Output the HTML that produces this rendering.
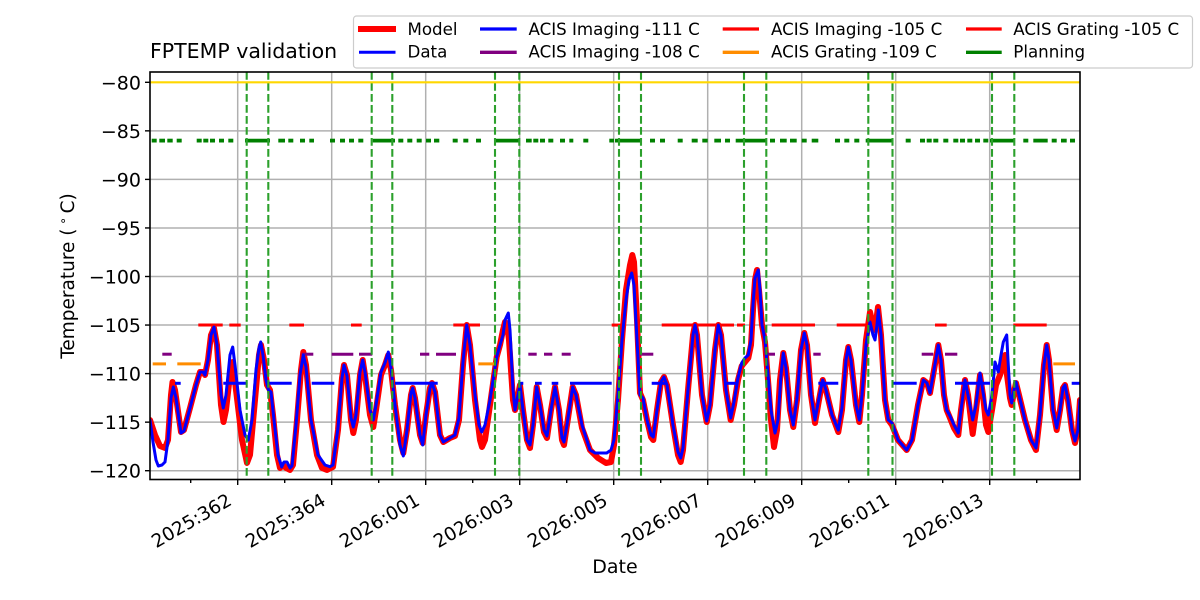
<!DOCTYPE html>
<html><head><meta charset="utf-8"><style>
html,body{margin:0;padding:0;background:#fff;}
svg{display:block;}
text{font-family:"DejaVu Sans","Liberation Sans",sans-serif;fill:#000;}
</style></head><body>
<svg width="1200" height="600" viewBox="0 0 1200 600" xmlns="http://www.w3.org/2000/svg">
<defs><clipPath id="ax"><rect x="150" y="72" width="930" height="407.5"/></clipPath></defs>
<rect width="1200" height="600" fill="#fff"/>
<!-- grid -->
<g stroke="#b0b0b0" stroke-width="1.5">
<line x1="237.7" y1="72" x2="237.7" y2="479.5"/><line x1="331.7" y1="72" x2="331.7" y2="479.5"/><line x1="425.7" y1="72" x2="425.7" y2="479.5"/><line x1="519.7" y1="72" x2="519.7" y2="479.5"/><line x1="613.7" y1="72" x2="613.7" y2="479.5"/><line x1="707.7" y1="72" x2="707.7" y2="479.5"/><line x1="801.7" y1="72" x2="801.7" y2="479.5"/><line x1="895.7" y1="72" x2="895.7" y2="479.5"/><line x1="989.7" y1="72" x2="989.7" y2="479.5"/>
<line x1="150" y1="82.3" x2="1080" y2="82.3"/><line x1="150" y1="130.85" x2="1080" y2="130.85"/><line x1="150" y1="179.4" x2="1080" y2="179.4"/><line x1="150" y1="227.95" x2="1080" y2="227.95"/><line x1="150" y1="276.5" x2="1080" y2="276.5"/><line x1="150" y1="325.05" x2="1080" y2="325.05"/><line x1="150" y1="373.6" x2="1080" y2="373.6"/><line x1="150" y1="422.15" x2="1080" y2="422.15"/><line x1="150" y1="470.7" x2="1080" y2="470.7"/>
</g>
<g clip-path="url(#ax)" fill="none" stroke-linejoin="round" stroke-linecap="round">
<!-- model -->
<polyline stroke="#ff0000" stroke-width="6" points="150,420 155,435 160,446 165,448 168,440 171,395 172.5,382 175,390 181,432 184,430 190,408 196,385 200,372 203,372 205,375 208,360 211,335 214,328 217,345 221,405 223.5,422 226,410 230,375 232.7,362 236,390 242,440 247,463 250,455 255,400 259,355 261,345 264,360 267,385 270,390 273,415 277,455 280,468 283,465 286,468 290,470 293,465 297,420 301,370 303.3,352 306,365 311,420 317,455 322,468 327,470 333,467 338,430 342,378 344,365 347,375 351,420 353.3,433 356,420 360,375 362.7,360 365,375 370,415 373.3,427 376,410 381,375 385,365 388.3,355 391,370 395,405 400,440 403.3,453 407,430 411,395 412.7,388 415,398 420,435 422.7,443 426,415 430,388 432,383 435,392 440,435 443.3,442 450,438 455,436 459,420 463,365 466.7,325 470,345 475,400 480,440 482,447 485,440 490,405 496.7,357 500,345 503,330 505,322 507,325 509,340 513,400 515,410 517,400 520,385 523,410 527,440 530,448 533,425 536.7,387 540,405 544,432 547,438 551,410 555,387 559,410 562,440 564,445 567,425 572.7,387 576,395 582,428 590,450 598,458 606,463 611,462 614,445 618,400 622,340 626,290 630,265 632.3,255 634,262 637,320 640,393 643,400 647,420 651,437 653.3,440 657,410 661,382 664,377 667,385 673,425 678,455 680.7,462 683,450 688,390 693,335 695,325 697,335 702,395 706.7,422 710,405 715,350 718.3,325 721,335 726,390 730.7,420 734,405 738,380 741.7,366 745,362 748.3,358 751,345 753,310 755,280 757,270 759,290 762,325 765,342 768,380 771,420 774,447 777,430 780,380 783.3,353 786,368 790,410 793.3,427 797,400 801,350 804.3,333 807,345 811,395 815,423 819,400 822.7,380 826,390 832,415 838.3,432 842,410 846,360 848.3,347 851,360 856,405 859.3,422 862,395 866,340 870,312 873,325 875,330 878,307 881,335 885,400 888.3,420 892,425 898,440 906.7,450 912,440 918,405 923.3,380 927,383 930,393 934,370 938.3,345 941,360 944,395 946.7,410 950,418 954,428 958.3,435 961,410 965,380 968,395 972.7,434 976,410 980,375 983,395 986,425 988.3,432 992,410 996,385 1000,375 1003,365 1005,355 1007,375 1010,398 1011.7,405 1014,392 1016,383 1019,395 1025,420 1031,440 1036,450 1040,415 1044,365 1046.7,345 1049,360 1053,410 1056.7,430 1060,410 1063,388 1065,385 1068,400 1072,430 1075,443 1078,430 1080,400"/>
</g>
<g clip-path="url(#ax)" stroke-width="3" stroke-linecap="butt">
<!-- ACIS Imaging -105 (red) -->
<g stroke="#ff0000">
<line x1="198.3" y1="325.05" x2="222.7" y2="325.05"/><line x1="229.3" y1="325.05" x2="240.7" y2="325.05"/><line x1="289.3" y1="325.05" x2="304" y2="325.05"/><line x1="351" y1="325.05" x2="361.7" y2="325.05"/><line x1="453.3" y1="325.05" x2="480" y2="325.05"/><line x1="611.7" y1="325.05" x2="621.7" y2="325.05"/><line x1="661.7" y1="325.05" x2="718" y2="325.05"/><line x1="721" y1="325.05" x2="734" y2="325.05"/><line x1="737" y1="325.05" x2="745" y2="325.05"/><line x1="771.7" y1="325.05" x2="815" y2="325.05"/><line x1="836.7" y1="325.05" x2="866.7" y2="325.05"/><line x1="935" y1="325.05" x2="946.7" y2="325.05"/><line x1="1013.3" y1="325.05" x2="1046.7" y2="325.05"/>
</g>
<!-- -108 purple -->
<g stroke="#800080">
<line x1="162.3" y1="354.2" x2="171.7" y2="354.2"/><line x1="301.7" y1="354.2" x2="313.3" y2="354.2"/><line x1="331.7" y1="354.2" x2="353.3" y2="354.2"/><line x1="359" y1="354.2" x2="372.3" y2="354.2"/><line x1="420" y1="354.2" x2="429.3" y2="354.2"/><line x1="436" y1="354.2" x2="456" y2="354.2"/><line x1="528.3" y1="354.2" x2="536.7" y2="354.2"/><line x1="544" y1="354.2" x2="552.3" y2="354.2"/><line x1="561.7" y1="354.2" x2="570.7" y2="354.2"/><line x1="640" y1="354.2" x2="653.3" y2="354.2"/><line x1="765" y1="354.2" x2="775" y2="354.2"/><line x1="813.3" y1="354.2" x2="820.7" y2="354.2"/><line x1="921.7" y1="354.2" x2="933.3" y2="354.2"/><line x1="945" y1="354.2" x2="957.3" y2="354.2"/>
</g>
<!-- -109 orange -->
<g stroke="#ff8c00">
<line x1="152.7" y1="363.9" x2="166" y2="363.9"/><line x1="177.3" y1="363.9" x2="200.7" y2="363.9"/><line x1="478.3" y1="363.9" x2="495" y2="363.9"/><line x1="1053.3" y1="363.9" x2="1075" y2="363.9"/>
</g>
<!-- -111 blue -->
<g stroke="#0000ff">
<line x1="175" y1="383.3" x2="180.7" y2="383.3"/><line x1="223.3" y1="383.3" x2="246.7" y2="383.3"/><line x1="268.3" y1="383.3" x2="291.7" y2="383.3"/><line x1="311.7" y1="383.3" x2="334.3" y2="383.3"/><line x1="395" y1="383.3" x2="437.7" y2="383.3"/><line x1="518.3" y1="383.3" x2="523.3" y2="383.3"/><line x1="535" y1="383.3" x2="541.7" y2="383.3"/><line x1="551.7" y1="383.3" x2="558.3" y2="383.3"/><line x1="570" y1="383.3" x2="611.7" y2="383.3"/><line x1="651.7" y1="383.3" x2="666.7" y2="383.3"/><line x1="726.7" y1="383.3" x2="736.7" y2="383.3"/><line x1="818.3" y1="383.3" x2="838.3" y2="383.3"/><line x1="891.7" y1="383.3" x2="916.7" y2="383.3"/><line x1="955" y1="383.3" x2="990" y2="383.3"/><line x1="1071.7" y1="383.3" x2="1080" y2="383.3"/>
</g>
</g>
<g clip-path="url(#ax)" fill="none" stroke-linejoin="round" stroke-linecap="round">
<!-- data -->
<polyline stroke="#0000ff" stroke-width="3" points="150,420 153,442 156,460 158.3,466 162,465 165,462 168,440 171,398 173.3,387 176,398 181,433 184,431 190,408 196,385 200,372 203,372 205,375 208,360 211,335 214,327 217,345 221,395 223.3,408 226,395 230,355 232.7,347 235,365 240,410 245,435 248.3,440 252,420 256,370 259,348 260.7,342 263,355 266,380 268.5,390 271,392 274,420 278,455 281.7,467 284,462 287,462 290,468 292,466 296,425 300,375 303.3,355 306,367 311,420 318,455 325,465 330,466.7 333,465 338,428 342,378 344,365 347,376 351,418 353.3,427 356,415 360,372 362.7,360 365,372 370,410 373.3,420 376,405 381,372 385,363 388.3,352 391,368 395,405 400,445 403.3,456 407,430 411,393 412.7,388 415,398 420,435 422.7,445 426,415 430,388 432,383 435,392 440,435 443.3,442 450,438 455,435 459,418 463,362 466.7,325 470,345 475,395 479,425 481.7,432 485,425 490,400 496.7,357 500,345 503,335 505,320 508.3,313 510,330 513,390 515,410 517,400 520,385 523,410 527,440 530,445 533,425 536.7,387 540,405 544,430 547,436 551,410 555,387 559,410 562,438 564,442 567,425 572.7,387 576,395 582,425 590,450 595,453 606.7,453 611,450 614,440 618,395 622,340 626,300 629,280 631.7,273 634,285 637,340 640,395 643,398 647,420 651,435 653.3,437 657,410 661,382 664,377 667,385 673,425 678,452 680.7,458 683,448 688,390 693,335 695,325 697,335 702,395 706.7,421 710,405 715,350 718.3,325 721,335 726,390 730.7,418 734,402 738,378 741.7,363 745,358 748.3,355 751,340 753,305 755,278 758.3,270 760,290 762,325 765,340 768,375 771,410 775,433 778,420 781,375 783.3,353 786,368 790,410 793.3,425 797,398 801,350 804.3,333 807,345 811,395 815,420 819,398 822.7,380 826,390 832,415 838.3,430 842,408 846,360 848.3,347 851,360 856,405 859.3,420 862,395 866,345 870,322 873,335 875,340 877,325 878.3,310 881,335 885,400 888.3,420 892,423 898,440 906.7,450 912,440 918,405 923.3,380 927,383 930,393 934,370 938.3,345 941,360 944,395 946.7,410 950,416 954,425 958.3,433 961,410 965,380 968,395 972.7,420 976,405 980,373 983,392 986,410 988.3,415 992,395 995,362 998.3,372 1001,355 1003.3,342 1006.7,335 1008,360 1010,395 1011.7,403 1014,390 1016,382 1019,395 1025,420 1031,440 1036,448 1040,415 1044,365 1046.7,345 1049,360 1053,410 1056.7,428 1060,410 1063,388 1065,385 1068,400 1072,430 1075,441 1078,430 1080,400"/>
</g>
<!-- planning -86 -->
<g clip-path="url(#ax)" stroke="#008000" stroke-width="3.8">
<line x1="151.7" y1="140.6" x2="156.7" y2="140.6"/><line x1="159.3" y1="140.6" x2="165" y2="140.6"/><line x1="167.3" y1="140.6" x2="172.7" y2="140.6"/><line x1="176.7" y1="140.6" x2="181.7" y2="140.6"/><line x1="196.7" y1="140.6" x2="201.7" y2="140.6"/><line x1="203.3" y1="140.6" x2="208.3" y2="140.6"/><line x1="210" y1="140.6" x2="215" y2="140.6"/><line x1="219" y1="140.6" x2="224" y2="140.6"/><line x1="228.3" y1="140.6" x2="233.3" y2="140.6"/><line x1="245" y1="140.6" x2="270" y2="140.6"/><line x1="278.3" y1="140.6" x2="285" y2="140.6"/><line x1="288.3" y1="140.6" x2="293.3" y2="140.6"/><line x1="300" y1="140.6" x2="305" y2="140.6"/><line x1="309.3" y1="140.6" x2="314" y2="140.6"/><line x1="330" y1="140.6" x2="335" y2="140.6"/><line x1="340" y1="140.6" x2="345" y2="140.6"/><line x1="349" y1="140.6" x2="354" y2="140.6"/><line x1="358.3" y1="140.6" x2="363.3" y2="140.6"/><line x1="372.7" y1="140.6" x2="395" y2="140.6"/><line x1="398.3" y1="140.6" x2="403.3" y2="140.6"/><line x1="407.3" y1="140.6" x2="412.3" y2="140.6"/><line x1="416.7" y1="140.6" x2="421.7" y2="140.6"/><line x1="426" y1="140.6" x2="431" y2="140.6"/><line x1="434" y1="140.6" x2="439.3" y2="140.6"/><line x1="452.7" y1="140.6" x2="457.7" y2="140.6"/><line x1="463.3" y1="140.6" x2="468.3" y2="140.6"/><line x1="476" y1="140.6" x2="481" y2="140.6"/><line x1="494.3" y1="140.6" x2="520" y2="140.6"/><line x1="526" y1="140.6" x2="531.7" y2="140.6"/><line x1="533.3" y1="140.6" x2="538.3" y2="140.6"/><line x1="540" y1="140.6" x2="545" y2="140.6"/><line x1="548.3" y1="140.6" x2="553.3" y2="140.6"/><line x1="560" y1="140.6" x2="565" y2="140.6"/><line x1="569.3" y1="140.6" x2="573.3" y2="140.6"/><line x1="583.3" y1="140.6" x2="588.3" y2="140.6"/><line x1="609.3" y1="140.6" x2="614" y2="140.6"/><line x1="615" y1="140.6" x2="641.7" y2="140.6"/><line x1="650" y1="140.6" x2="655" y2="140.6"/><line x1="660" y1="140.6" x2="665" y2="140.6"/><line x1="677.7" y1="140.6" x2="682.7" y2="140.6"/><line x1="691.7" y1="140.6" x2="697.7" y2="140.6"/><line x1="702.3" y1="140.6" x2="707.7" y2="140.6"/><line x1="714.3" y1="140.6" x2="721" y2="140.6"/><line x1="725" y1="140.6" x2="730" y2="140.6"/><line x1="735.7" y1="140.6" x2="766.7" y2="140.6"/><line x1="770" y1="140.6" x2="775" y2="140.6"/><line x1="780" y1="140.6" x2="786.7" y2="140.6"/><line x1="790" y1="140.6" x2="796.7" y2="140.6"/><line x1="801.7" y1="140.6" x2="806.7" y2="140.6"/><line x1="811.7" y1="140.6" x2="818.3" y2="140.6"/><line x1="835" y1="140.6" x2="840" y2="140.6"/><line x1="844.3" y1="140.6" x2="849.3" y2="140.6"/><line x1="854.3" y1="140.6" x2="859.3" y2="140.6"/><line x1="865.7" y1="140.6" x2="893.3" y2="140.6"/><line x1="905.7" y1="140.6" x2="910.7" y2="140.6"/><line x1="920" y1="140.6" x2="925" y2="140.6"/><line x1="926.7" y1="140.6" x2="931.7" y2="140.6"/><line x1="933.3" y1="140.6" x2="938.3" y2="140.6"/><line x1="943.3" y1="140.6" x2="948.3" y2="140.6"/><line x1="953.3" y1="140.6" x2="958.3" y2="140.6"/><line x1="960" y1="140.6" x2="965" y2="140.6"/><line x1="967.3" y1="140.6" x2="972.3" y2="140.6"/><line x1="975" y1="140.6" x2="980" y2="140.6"/><line x1="983.3" y1="140.6" x2="988.3" y2="140.6"/><line x1="990" y1="140.6" x2="1015" y2="140.6"/><line x1="1023.3" y1="140.6" x2="1028.3" y2="140.6"/><line x1="1033.3" y1="140.6" x2="1047.7" y2="140.6"/><line x1="1051.7" y1="140.6" x2="1056.7" y2="140.6"/><line x1="1061" y1="140.6" x2="1066.7" y2="140.6"/><line x1="1070" y1="140.6" x2="1075" y2="140.6"/>
</g>
<!-- vertical dashed lines -->
<g stroke="#2ca02c" stroke-width="2.1" stroke-dasharray="7.7,3.3">
<line x1="246.7" y1="72" x2="246.7" y2="479.5"/><line x1="268.3" y1="72" x2="268.3" y2="479.5"/><line x1="371.7" y1="72" x2="371.7" y2="479.5"/><line x1="392.3" y1="72" x2="392.3" y2="479.5"/><line x1="495" y1="72" x2="495" y2="479.5"/><line x1="519.3" y1="72" x2="519.3" y2="479.5"/><line x1="619" y1="72" x2="619" y2="479.5"/><line x1="641" y1="72" x2="641" y2="479.5"/><line x1="744" y1="72" x2="744" y2="479.5"/><line x1="766.3" y1="72" x2="766.3" y2="479.5"/><line x1="868.3" y1="72" x2="868.3" y2="479.5"/><line x1="892.5" y1="72" x2="892.5" y2="479.5"/><line x1="992" y1="72" x2="992" y2="479.5"/><line x1="1014.3" y1="72" x2="1014.3" y2="479.5"/>
</g>
<!-- gold -80 -->
<line x1="150" y1="82.3" x2="1080" y2="82.3" stroke="#ffd700" stroke-width="2.2"/>
<!-- spines -->
<rect x="150" y="72" width="930" height="407.5" fill="none" stroke="#000" stroke-width="1.6"/>
<!-- ticks -->
<g stroke="#000" stroke-width="1.4">
<line x1="145" y1="82.3" x2="150" y2="82.3"/><line x1="145" y1="130.85" x2="150" y2="130.85"/><line x1="145" y1="179.4" x2="150" y2="179.4"/><line x1="145" y1="227.95" x2="150" y2="227.95"/><line x1="145" y1="276.5" x2="150" y2="276.5"/><line x1="145" y1="325.05" x2="150" y2="325.05"/><line x1="145" y1="373.6" x2="150" y2="373.6"/><line x1="145" y1="422.15" x2="150" y2="422.15"/><line x1="145" y1="470.7" x2="150" y2="470.7"/>
<line x1="237.7" y1="479.5" x2="237.7" y2="485"/><line x1="331.7" y1="479.5" x2="331.7" y2="485"/><line x1="425.7" y1="479.5" x2="425.7" y2="485"/><line x1="519.7" y1="479.5" x2="519.7" y2="485"/><line x1="613.7" y1="479.5" x2="613.7" y2="485"/><line x1="707.7" y1="479.5" x2="707.7" y2="485"/><line x1="801.7" y1="479.5" x2="801.7" y2="485"/><line x1="895.7" y1="479.5" x2="895.7" y2="485"/><line x1="989.7" y1="479.5" x2="989.7" y2="485"/>
<line x1="190.7" y1="479.5" x2="190.7" y2="483"/><line x1="284.7" y1="479.5" x2="284.7" y2="483"/><line x1="378.7" y1="479.5" x2="378.7" y2="483"/><line x1="472.7" y1="479.5" x2="472.7" y2="483"/><line x1="566.7" y1="479.5" x2="566.7" y2="483"/><line x1="660.7" y1="479.5" x2="660.7" y2="483"/><line x1="754.7" y1="479.5" x2="754.7" y2="483"/><line x1="848.7" y1="479.5" x2="848.7" y2="483"/><line x1="942.7" y1="479.5" x2="942.7" y2="483"/><line x1="1036.7" y1="479.5" x2="1036.7" y2="483"/>
</g>
<!-- y tick labels -->
<g font-size="19" text-anchor="end">
<text x="141" y="89.3">−80</text><text x="141" y="137.9">−85</text><text x="141" y="186.4">−90</text><text x="141" y="235">−95</text><text x="141" y="283.5">−100</text><text x="141" y="332">−105</text><text x="141" y="380.6">−110</text><text x="141" y="429.2">−115</text><text x="141" y="477.7">−120</text>
</g>
<!-- x tick labels -->
<g font-size="18.5" text-anchor="end">
<text transform="translate(233,504) rotate(-30)">2025:362</text>
<text transform="translate(327,504) rotate(-30)">2025:364</text>
<text transform="translate(421,504) rotate(-30)">2026:001</text>
<text transform="translate(515,504) rotate(-30)">2026:003</text>
<text transform="translate(609,504) rotate(-30)">2026:005</text>
<text transform="translate(703,504) rotate(-30)">2026:007</text>
<text transform="translate(797,504) rotate(-30)">2026:009</text>
<text transform="translate(891,504) rotate(-30)">2026:011</text>
<text transform="translate(985,504) rotate(-30)">2026:013</text>
</g>
<!-- axis labels -->
<text x="615" y="573" font-size="19" text-anchor="middle">Date</text>
<text transform="translate(74,276) rotate(-90)" font-size="18.5" text-anchor="middle">Temperature (<tspan font-size="12" dy="-7"> ∘ </tspan><tspan dy="7">C)</tspan></text>
<!-- title -->
<text x="150" y="58" font-size="20.5">FPTEMP validation</text>
<!-- legend -->
<rect x="353.5" y="16" width="839" height="52" rx="3" ry="3" fill="#fff" fill-opacity="0.8" stroke="#cccccc" stroke-width="1.2"/>
<g stroke-linecap="butt">
<line x1="358" y1="29" x2="396" y2="29" stroke="#ff0000" stroke-width="6"/>
<line x1="359" y1="52.3" x2="395.5" y2="52.3" stroke="#0000ff" stroke-width="3"/>
<line x1="480" y1="29" x2="516.7" y2="29" stroke="#0000ff" stroke-width="3.3"/>
<line x1="480" y1="52.3" x2="516.7" y2="52.3" stroke="#800080" stroke-width="3.3"/>
<line x1="722.7" y1="29" x2="759" y2="29" stroke="#ff0000" stroke-width="3.3"/>
<line x1="722.7" y1="52.3" x2="759" y2="52.3" stroke="#ff8c00" stroke-width="3.3"/>
<line x1="966" y1="29" x2="1001.7" y2="29" stroke="#ff0000" stroke-width="3.3"/>
<line x1="966" y1="52.3" x2="1001.7" y2="52.3" stroke="#008000" stroke-width="3.3"/>
</g>
<g font-size="16.67">
<text x="407.5" y="35">Model</text><text x="407.5" y="57.7">Data</text>
<text x="528.5" y="35">ACIS Imaging -111 C</text><text x="528.5" y="57.7">ACIS Imaging -108 C</text>
<text x="771" y="35">ACIS Imaging -105 C</text><text x="771" y="57.7">ACIS Grating -109 C</text>
<text x="1013.3" y="35">ACIS Grating -105 C</text><text x="1013.3" y="57.7">Planning</text>
</g>
</svg>
</body></html>
